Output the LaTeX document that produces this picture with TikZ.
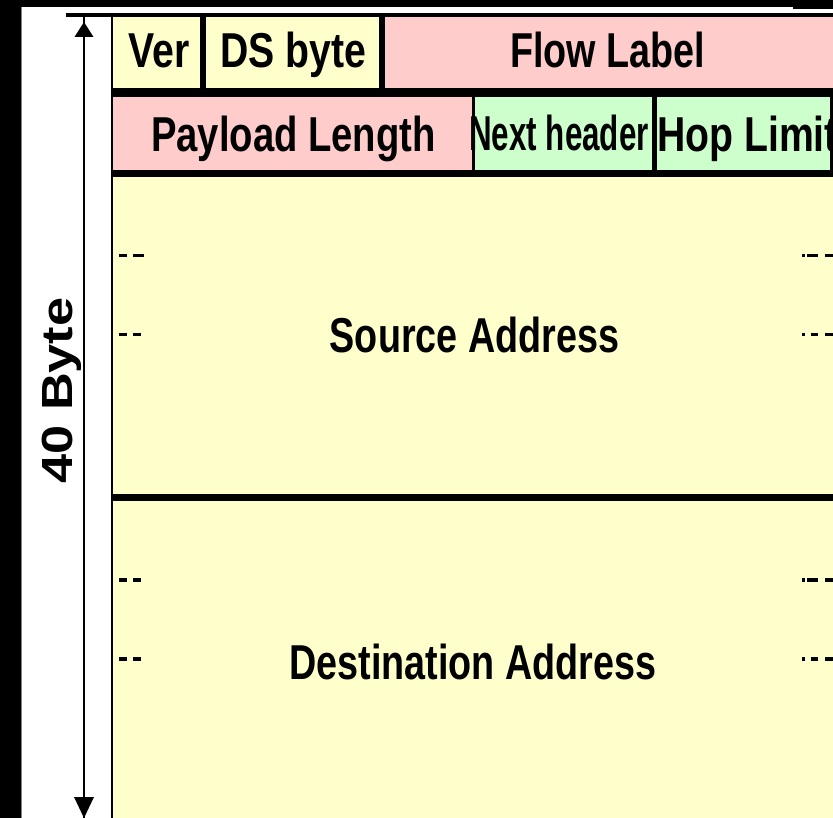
\documentclass[tikz,border=0pt]{standalone}
\usepackage{fontspec}
\setmainfont{Liberation Sans}
\usepackage{graphicx}
\usetikzlibrary{fit}
\definecolor{cyel}{HTML}{FFFFCC}
\definecolor{cpink}{HTML}{FFCCCC}
\definecolor{cgreen}{HTML}{CCFFCC}
\newcommand\sx[2]{\scalebox{#1}[1]{#2}}
\newcommand\dsh[3]{\fill[black] (#1,#2) rectangle (#3,#2+3.5);}
\begin{document}
\begin{tikzpicture}[x=1pt,y=-1pt,
  cellbox/.style={inner sep=0pt, outer sep=0pt, draw=none},
  lbl/.style={inner sep=0pt, anchor=base, font=\fontsize{49}{52}\selectfont\bfseries}]
\useasboundingbox (0,0) rectangle (833,818);
\fill[white] (0,0) rectangle (833,818);
% frame
\fill[black] (0,0) rectangle (21,818);
\fill[gray] (21,7) rectangle (22,818);
\fill[black] (0,0) rectangle (833,7);
\fill[black] (793,0) rectangle (833,9.5);
\fill[black] (66,13.3) rectangle (833,16.7);
\fill[black] (111,13.3) rectangle (833,818);
% cells
\node[cellbox, fill=cyel, fit={(113,16.7)(200,88.3)}] (ver) {};
\node[cellbox, fill=cyel, fit={(206,16.7)(379,88.3)}] (ds) {};
\node[cellbox, fill=cpink, fit={(385,16.7)(833,88.3)}] (flow) {};
\node[cellbox, fill=cpink, fit={(113,96.7)(472,170)}] (pay) {};
\node[cellbox, fill=cgreen, fit={(475,96.7)(652,170)}] (next) {};
\node[cellbox, fill=cgreen, fit={(657,96.7)(830,170)}] (hop) {};
\node[cellbox, fill=cyel, fit={(113,176.7)(833,494)}] (src) {};
\node[cellbox, fill=cyel, fit={(113,501)(833,818)}] (dst) {};
% labels
\node[lbl] (tver) at (159,68) {\sx{0.80}{Ver}};
\node[lbl] (tds) at (293.5,68) {\sx{0.80}{DS byte}};
\node[lbl] (tflow) at (607.5,68) {\sx{0.77}{Flow Label}};
\node[lbl] (tpay) at (293.5,152) {\sx{0.78}{Payload Length}};
\node[lbl] (tnext) at (559,151) {\sx{0.64}{Next header}};
\node[lbl, anchor=base west] (thop) at (657,152) {\sx{0.80}{Hop Limit}};
\node[lbl] (tsrc) at (474.5,353) {\sx{0.77}{Source Address}};
\node[lbl] (tdst) at (473,679) {\sx{0.77}{Destination Address}};
\fill[black] (830,96.7) rectangle (833,170);
% dashes
\dsh{119}{254}{127} \dsh{133}{254}{144}
\dsh{119}{333}{127} \dsh{133}{333}{141}
\dsh{119}{578}{127} \dsh{133}{578}{141}
\dsh{119}{657}{127} \dsh{133}{657}{141}
\dsh{802}{254}{804.5} \dsh{807}{254}{818} \dsh{825}{254}{833}
\dsh{802}{333}{804.5} \dsh{811}{333}{818} \dsh{825}{333}{833}
\dsh{802}{578}{804.5} \dsh{807}{578}{818} \dsh{825}{578}{833}
\dsh{802}{657}{804.5} \dsh{811}{657}{818} \dsh{825}{657}{833}
% size arrow
\coordinate (atop) at (84,16.7);
\coordinate (abot) at (84,818);
\draw[line width=1.7pt] (atop) -- (abot);
\fill[black] (84,22) -- (93.5,37) -- (74.5,37) -- cycle;
\fill[black] (84,818) -- (94,797) -- (74,797) -- cycle;
\node[rotate=90, anchor=base, inner sep=0pt, font=\fontsize{43.6}{46}\selectfont\bfseries] (tlen) at (72,390.5) {\sx{1.2}{40 Byte}};
\end{tikzpicture}
\end{document}
